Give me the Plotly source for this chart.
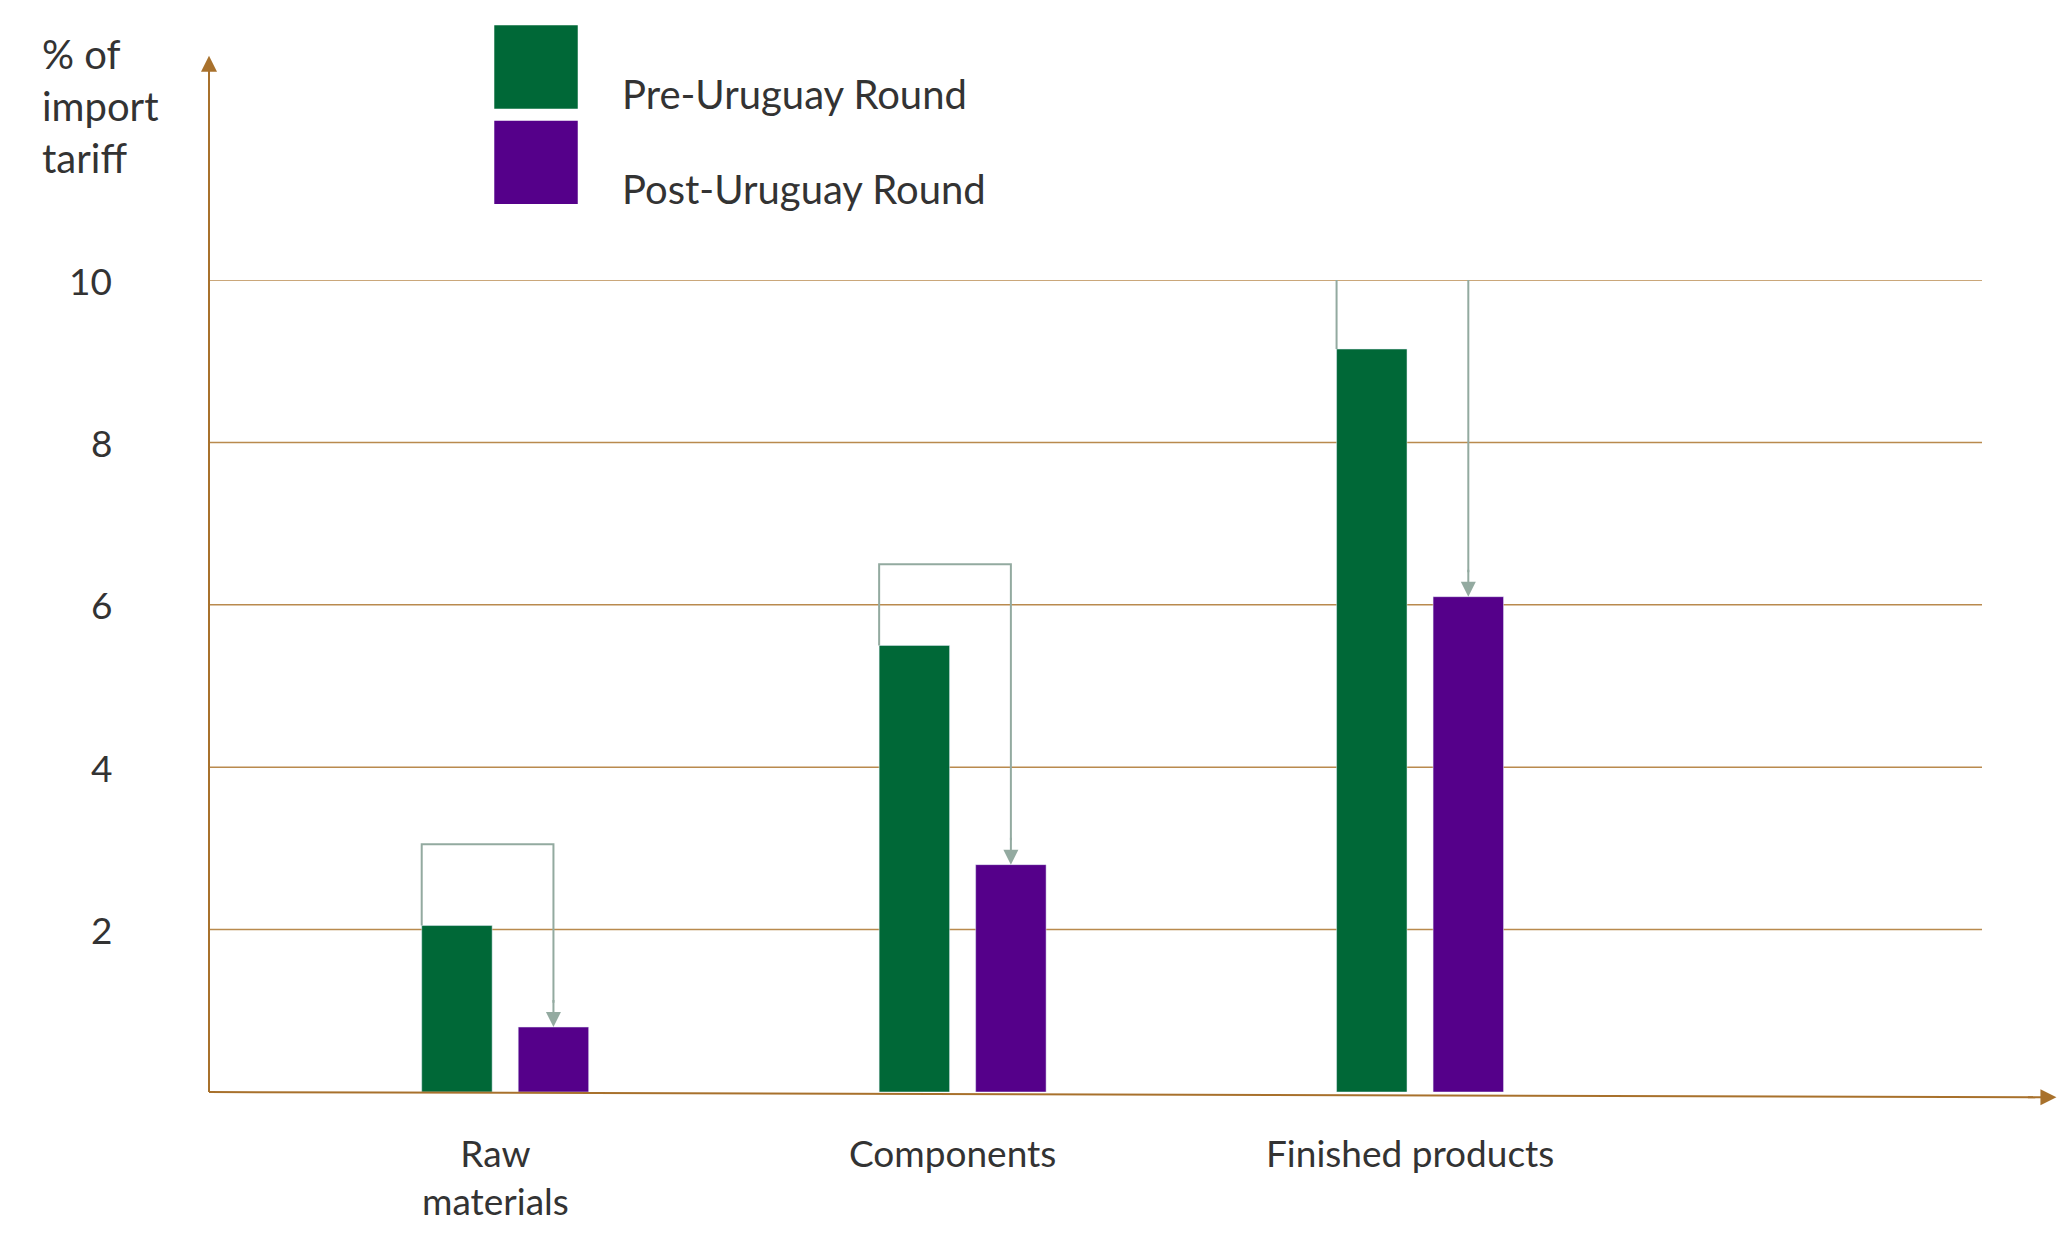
import plotly.graph_objects as go

categories = ["Raw materials", "Components", "Finished products"]
cat_labels = ["Raw<br>materials", "Components", "Finished products"]
pre_uruguay = [2.05, 5.5, 9.15]
post_uruguay = [0.8, 2.8, 6.1]
bracket_top = [3.05, 6.5, 10.15]
y_ticks = [2, 4, 6, 8, 10]

W, H = 2067, 1237
S = 2067 / 1560.0
L, R, T, B = 201, 93, 272, 153
PW, PH = W - L - R, H - T - B


def px(x):
    return (x * S - L) / PW


def py(y):
    return (H - B - y * S) / PH


GREEN = "#006837"
PURPLE = "#55008a"
BROWN = "#a8712c"
GRID = "#b98a4e"
GRAYL = "#93aaa0"
TXT = "#333333"
FONT = "Lato"

fig = go.Figure()
fig.add_bar(x=[0, 1, 2], y=pre_uruguay, marker_color=GREEN, width=0.154, offset=-0.181,
            name="Pre-Uruguay Round")
fig.add_bar(x=[0, 1, 2], y=post_uruguay, marker_color=PURPLE, width=0.154, offset=0.03,
            name="Post-Uruguay Round")

shapes = []
ann = []
for t in y_ticks:
    shapes.append(dict(type="line", xref="paper", yref="y", x0=0, x1=1, y0=t, y1=t,
                       line=dict(color=GRID, width=1.5), layer="below"))
    ann.append(dict(xref="paper", yref="y", x=px(80), y=t, text=str(t), showarrow=False,
                    xanchor="right", font=dict(size=37, color=TXT, family=FONT)))

# axes
shapes.append(dict(type="line", xref="paper", yref="paper", x0=0, x1=0, y0=0, y1=py(50),
                   line=dict(color=BROWN, width=2)))
shapes.append(dict(type="line", xref="paper", yref="paper", x0=0, x1=px(1530), y0=0, y1=py(822),
                   line=dict(color=BROWN, width=2)))
ann.append(dict(xref="paper", yref="paper", x=0, y=py(36), ax=0, ay=30,
                text="", showarrow=True, arrowhead=2, arrowsize=1.6, arrowwidth=2, arrowcolor=BROWN))
ann.append(dict(xref="paper", yref="paper", x=px(1546), y=py(822), ax=-30, ay=0,
                text="", showarrow=True, arrowhead=2, arrowsize=1.6, arrowwidth=2, arrowcolor=BROWN))

# reduction brackets
for i in range(3):
    xa = i - 0.181 + 0.0
    xb = i + 0.03 + 0.077
    shapes.append(dict(type="path", xref="x", yref="y",
                       path=f"M {xa},{pre_uruguay[i]} L {xa},{bracket_top[i]} L {xb},{bracket_top[i]} L {xb},{post_uruguay[i] + 0.3}",
                       line=dict(color=GRAYL, width=2)))
    ann.append(dict(xref="x", yref="y", x=xb, y=post_uruguay[i], ax=xb, ay=post_uruguay[i] + 0.35,
                    axref="x", ayref="y", text="", showarrow=True, arrowhead=2, arrowsize=1.5,
                    arrowwidth=2, arrowcolor=GRAYL))

# category labels
for i, lab in enumerate(cat_labels):
    ann.append(dict(xref="x", yref="paper", x=i - 0.02, y=py(845), text=lab, showarrow=False,
                    yanchor="top", font=dict(size=37, color=TXT, family=FONT)))

# legend
for y0, col, name in [(13, GREEN, "Pre-Uruguay Round"), (85, PURPLE, "Post-Uruguay Round")]:
    shapes.append(dict(type="rect", xref="paper", yref="paper", x0=px(367), x1=px(430),
                       y0=py(y0 + 63), y1=py(y0), fillcolor=col, line=dict(width=0)))
    ann.append(dict(xref="paper", yref="paper", x=px(462), y=py(y0 + 32), text=name, showarrow=False,
                    xanchor="left", font=dict(size=40, color=TXT, family=FONT)))

ann.append(dict(xref="paper", yref="paper", x=px(24), y=py(15), text="% of<br>import<br>tariff",
                showarrow=False, xanchor="left", yanchor="top", align="left",
                font=dict(size=40, color=TXT, family=FONT)))

fig.update_layout(
    width=W, height=H, margin=dict(l=L, r=R, t=T, b=B),
    plot_bgcolor="white", paper_bgcolor="white", showlegend=False,
    xaxis=dict(range=[-0.646, 3.23], visible=False),
    yaxis=dict(range=[0, 10], visible=False),
    shapes=shapes, annotations=ann,
)
fig.write_html("out.html")
